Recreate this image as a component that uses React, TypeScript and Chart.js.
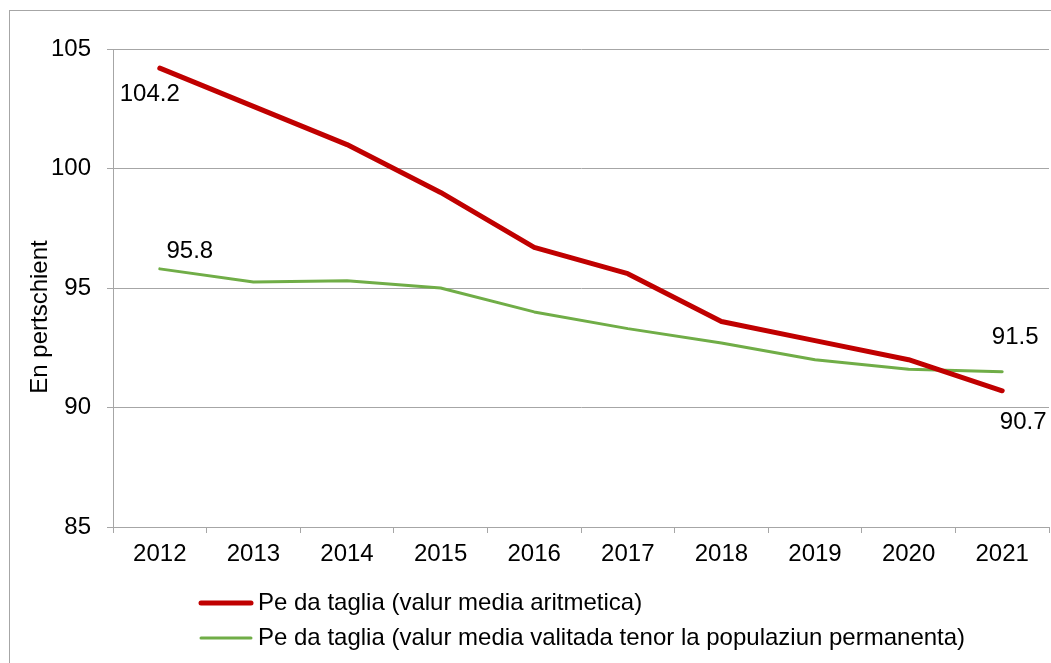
import { useEffect, useRef } from "react";
import { Chart, registerables } from "chart.js";

Chart.register(...registerables);

const years = ["2012", "2013", "2014", "2015", "2016", "2017", "2018", "2019", "2020", "2021"];
const arithmeticMean = [104.2, 102.6, 101.0, 99.0, 96.7, 95.6, 93.6, 92.8, 92.0, 90.7];
const weightedMean = [95.8, 95.25, 95.3, 95.0, 94.0, 93.3, 92.7, 92.0, 91.6, 91.5];
const seriesLabels = [
  "Pe da taglia (valur media aritmetica)",
  "Pe da taglia (valur media valitada tenor la populaziun permanenta)",
];
const yMin = 85;
const yMax = 105;
const yStep = 5;
const yTitle = "En pertschient";

const FONT = "'Liberation Sans', Arial, sans-serif";
const FONT_SIZE = 24;
const RED = "#C00000";
const GREEN = "#70AD47";
const GRID = "#A6A6A6";

// which points carry a value label: [datasetIndex, pointIndex, dx, dy]
const valueLabels: [number, number, number, number][] = [
  [0, 0, -10, 26],
  [0, 9, 21, 32],
  [1, 0, 30, -18],
  [1, 9, 13, -34],
];

const framePlugin = {
  id: "frame",
  beforeDraw(chart: any) {
    const ctx = chart.ctx;
    ctx.save();
    ctx.strokeStyle = GRID;
    ctx.lineWidth = 1;
    ctx.strokeRect(9.5, 10.5, chart.width + 50, chart.height + 50);
    ctx.restore();
  },
};

const yTitlePlugin = {
  id: "yTitle",
  afterDraw(chart: any) {
    const ctx = chart.ctx;
    const area = chart.chartArea;
    ctx.save();
    ctx.font = `${FONT_SIZE}px ${FONT}`;
    ctx.fillStyle = "#000";
    ctx.textAlign = "center";
    ctx.textBaseline = "middle";
    ctx.translate(40, (area.top + area.bottom) / 2 + 29);
    ctx.rotate(-Math.PI / 2);
    ctx.fillText(yTitle, 0, 0);
    ctx.restore();
  },
};

const labelPlugin = {
  id: "valueLabels",
  afterDatasetsDraw(chart: any) {
    const ctx = chart.ctx;
    ctx.save();
    ctx.font = `${FONT_SIZE}px ${FONT}`;
    ctx.fillStyle = "#000";
    ctx.textAlign = "center";
    ctx.textBaseline = "middle";
    for (const [di, pi, dx, dy] of valueLabels) {
      const pt = chart.getDatasetMeta(di).data[pi];
      const v = chart.data.datasets[di].data[pi] as number;
      ctx.fillText(v.toFixed(1), pt.x + dx, pt.y + dy);
    }
    ctx.restore();
  },
};

const legendPlugin = {
  id: "customLegend",
  afterDraw(chart: any) {
    const ctx = chart.ctx;
    const rows = [603, 638];
    ctx.save();
    ctx.font = `${FONT_SIZE}px ${FONT}`;
    ctx.textBaseline = "middle";
    ctx.textAlign = "left";
    chart.data.datasets.forEach((ds: any, i: number) => {
      const y = rows[i];
      ctx.strokeStyle = ds.borderColor;
      ctx.lineWidth = ds.borderWidth;
      ctx.lineCap = "round";
      ctx.beginPath();
      ctx.moveTo(201, y);
      ctx.lineTo(251, y);
      ctx.stroke();
      ctx.fillStyle = "#000";
      ctx.fillText(ds.label, 258, y);
    });
    ctx.restore();
  },
};

export default function App() {
  const ref = useRef<HTMLCanvasElement | null>(null);

  useEffect(() => {
    if (!ref.current) return;
    const chart = new Chart(ref.current, {
      type: "line",
      data: {
        labels: years,
        datasets: [
          {
            label: seriesLabels[0],
            data: arithmeticMean,
            borderColor: RED,
            backgroundColor: RED,
            borderWidth: 5,
            pointRadius: 0,
            tension: 0,
            borderCapStyle: "round",
            borderJoinStyle: "round",
          },
          {
            label: seriesLabels[1],
            data: weightedMean,
            borderColor: GREEN,
            backgroundColor: GREEN,
            borderWidth: 3,
            pointRadius: 0,
            tension: 0,
            borderCapStyle: "round",
            borderJoinStyle: "round",
          },
        ],
      },
      options: {
        responsive: false,
        animation: false,
        events: [],
        layout: { padding: { left: 0, right: 2, top: 49, bottom: 76 } },
        plugins: {
          legend: { display: false },
          tooltip: { enabled: false },
          title: { display: false },
        },
        scales: {
          x: {
            type: "category",
            offset: true,
            grid: {
              offset: true,
              drawOnChartArea: false,
              drawTicks: true,
              tickLength: 6,
              color: GRID,
            },
            border: { display: true, color: GRID },
            ticks: {
              color: "#000",
              font: { family: FONT, size: FONT_SIZE },
              padding: 7,
              maxRotation: 0,
              autoSkip: false,
            },
            afterFit: (s: any) => {
              s.height = 60;
            },
          },
          y: {
            min: yMin,
            max: yMax,
            ticks: {
              stepSize: yStep,
              color: "#000",
              font: { family: FONT, size: FONT_SIZE },
              padding: 16,
            },
            grid: { color: GRID, tickLength: 6, drawTicks: true },
            border: { display: true, color: GRID },
            title: { display: false },
            afterFit: (s: any) => {
              s.width = 113;
            },
          },
        },
      },
      plugins: [framePlugin, labelPlugin, legendPlugin, yTitlePlugin],
    });
    return () => chart.destroy();
  }, []);

  return (
    <div style={{ position: "fixed", left: 0, top: 0, width: 1051, height: 663, background: "#fff" }}>
      <canvas ref={ref} width={1051} height={663} style={{ width: 1051, height: 663 }} />
    </div>
  );
}
